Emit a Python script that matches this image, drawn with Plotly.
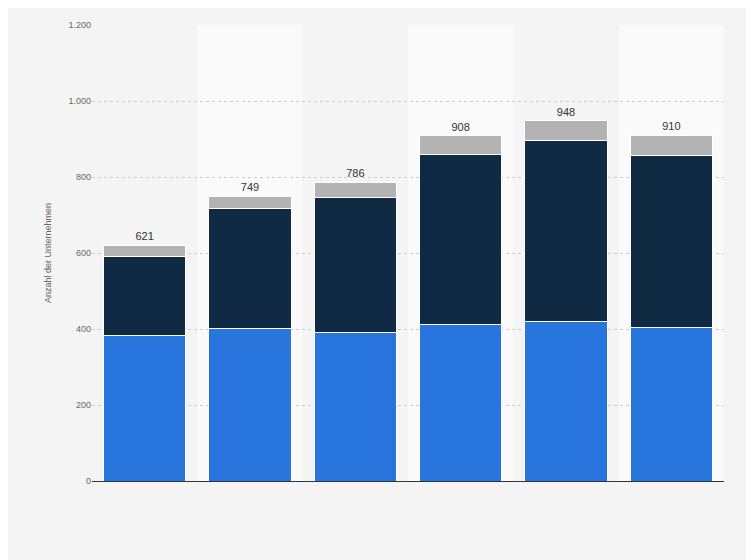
import plotly.graph_objects as go

categories = ["1", "2", "3", "4", "5", "6"]
blue = [383, 401, 390, 411, 419, 403]
navy = [208, 315, 357, 448, 476, 453]
totals = [621, 749, 786, 908, 948, 910]
gray = [t - b - n for t, b, n in zip(totals, blue, navy)]

fig = go.Figure()
line = dict(color="white", width=1)
fig.add_bar(x=categories, y=blue, marker=dict(color="#2876dd", line=line))
fig.add_bar(x=categories, y=navy, marker=dict(color="#0f2a42", line=line))
fig.add_bar(x=categories, y=gray, marker=dict(color="#b3b3b3", line=line),
            text=[str(t) for t in totals], textposition="outside",
            textfont=dict(color="#333", size=11), cliponaxis=False)

for i in (1, 3, 5):
    fig.add_shape(type="rect", xref="x", yref="paper", x0=i - 0.5, x1=i + 0.5,
                  y0=0, y1=1, fillcolor="#fafafa", line_width=0, layer="below")

fig.update_layout(
    barmode="stack", width=754, height=560, showlegend=False,
    paper_bgcolor="#f4f4f4", plot_bgcolor="#f4f4f4",
    margin=dict(l=84, r=38, t=12, b=87), bargap=0.22,
    font=dict(family="Liberation Sans, Arial", color="#666"),
    separators=",.",
    xaxis=dict(showticklabels=False, showline=True, linecolor="#333", linewidth=1),
    yaxis=dict(range=[0, 1200], dtick=200, tickformat=",d", gridcolor="#ccc",
               griddash="dot", zeroline=False, tickfont=dict(size=9),
               title=dict(text="Anzahl der Unternehmen", font=dict(size=9))),
)
fig.write_html("out.html")
